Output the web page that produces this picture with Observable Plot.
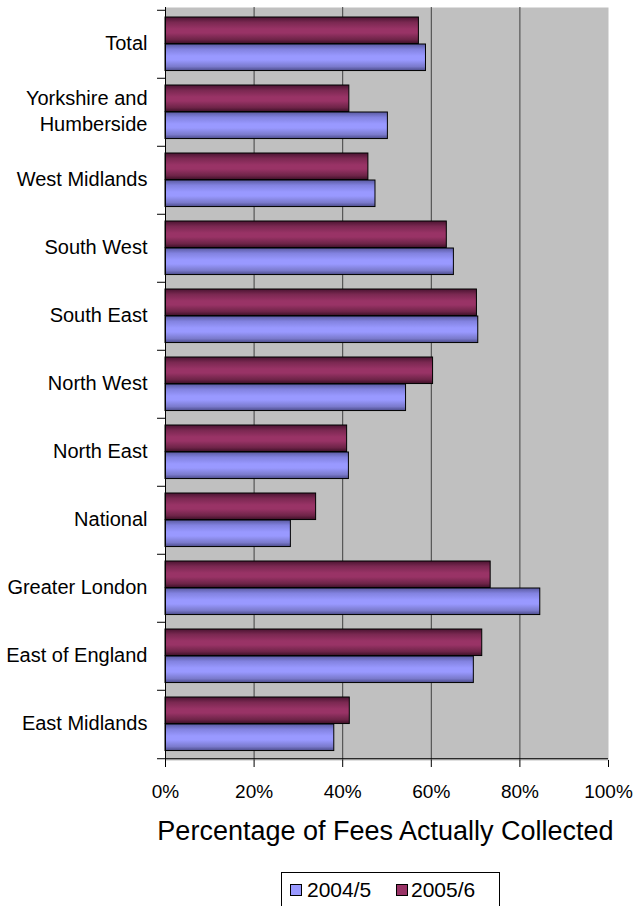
<!DOCTYPE html>
<html><head><meta charset="utf-8">
<script src="https://cdn.jsdelivr.net/npm/d3@7"></script>
<script src="https://cdn.jsdelivr.net/npm/@observablehq/plot@0.6"></script>
<style>
html,body{margin:0;padding:0;background:#fff;overflow:hidden;}
#wrap{position:relative;width:636px;height:906px;font-family:"Liberation Sans",Arial,sans-serif;color:#000;}
#chart{position:absolute;left:0;top:0;}
#title{position:absolute;left:100px;width:571px;top:818px;text-align:center;font-size:27px;line-height:27px;white-space:nowrap;}
#legend{position:absolute;left:281px;top:872px;width:219px;height:50px;box-sizing:border-box;border:1px solid #000;background:#fff;font-size:21px;}
.sw{position:absolute;top:11px;width:12px;height:12px;box-sizing:border-box;border:1px solid #000;}
.lt{position:absolute;top:5px;line-height:24px;}
</style></head><body><div id="wrap"><div id="chart"></div><div id="title"></div><div id="legend"></div></div>
<script>
const categories = ["Total","Yorkshire and Humberside","West Midlands","South West","South East","North West","North East","National","Greater London","East of England","East Midlands"];
const categoryLabels = ["Total","Yorkshire and\nHumberside","West Midlands","South West","South East","North West","North East","National","Greater London","East of England","East Midlands"];
const fees2004 = [58.8,50.2,47.4,65.1,70.6,54.3,41.4,28.3,84.6,69.6,38.1];
const fees2005 = [57.2,41.5,45.8,63.5,70.3,60.4,41.0,34.0,73.4,71.5,41.6];
const seriesNames = ["2004/5","2005/6"];
const xTicks = [0,20,40,60,80,100];
const gridTicks = [20,40,60,80];
const axisTitle = "Percentage of Fees Actually Collected";

const rows = categories.map((c,i)=>({category:c, label:categoryLabels[i], v2004:fees2004[i], v2005:fees2005[i]}));
const plotTop = 7, plotBottom = 760, svgHeight = 812;
const step = (plotBottom-plotTop)/categories.length;

const plot = Plot.plot({
  width:636, height:svgHeight, marginTop:plotTop, marginBottom:svgHeight-plotBottom, marginLeft:165, marginRight:28,
  style:{fontFamily:"Liberation Sans, Arial, sans-serif", fontSize:"19px", background:"transparent", color:"#000", overflow:"visible"},
  x:{domain:[0,100], ticks:xTicks, label:null},
  y:{domain:categories, padding:0, axis:null},
  marks:[
    Plot.frame({fill:"#c0c0c0", stroke:null}),
    Plot.ruleX(gridTicks, {stroke:"#404040", strokeWidth:1}),
    Plot.barX(rows, {x:"v2005", y:"category", fill:"url(#gradM)", stroke:"#000", strokeWidth:1, insetTop:7, insetBottom:step-34}),
    Plot.barX(rows, {x:"v2004", y:"category", fill:"url(#gradB)", stroke:"#000", strokeWidth:1, insetTop:34, insetBottom:step-61}),
    Plot.ruleX([0], {stroke:"#000", strokeWidth:1}),
    Plot.ruleY(categories, {x1:-1.8, x2:0, dy:-step/2, stroke:"#000", strokeWidth:1}),
    Plot.ruleY([categories[categories.length-1]], {x1:-1.8, x2:100, dy:step/2, stroke:"#000", strokeWidth:1}),
    Plot.text(rows, {x:0, y:"category", text:"label", textAnchor:"end", dx:-18, dy:-3, fontSize:20, lineHeight:1.3, fill:"#000"}),
    Plot.axisX(xTicks, {tickSize:7, tickPadding:17, tickFormat:d=>d+"%", stroke:"#000", fontSize:19, label:null})
  ]
});

d3.select(plot).insert("defs", ":first-child").html(`
<linearGradient id="gradM" x1="0" y1="0" x2="0" y2="1">
<stop offset="0" stop-color="#4a1431"/>
<stop offset="0.2" stop-color="#7a2851"/>
<stop offset="0.45" stop-color="#993366"/>
<stop offset="0.6" stop-color="#993366"/>
<stop offset="0.85" stop-color="#6e2448"/>
<stop offset="1" stop-color="#3d1027"/>
</linearGradient>
<linearGradient id="gradB" x1="0" y1="0" x2="0" y2="1">
<stop offset="0" stop-color="#5a5aa0"/>
<stop offset="0.2" stop-color="#8282e0"/>
<stop offset="0.45" stop-color="#9999ff"/>
<stop offset="0.6" stop-color="#9999ff"/>
<stop offset="0.85" stop-color="#7a7acc"/>
<stop offset="1" stop-color="#4c4c8a"/>
</linearGradient>`);

document.getElementById("chart").appendChild(plot);
document.getElementById("title").textContent = axisTitle;

const legendColors = {"2004/5":"#9999ff","2005/6":"#993366"};
const legendPos = [{sq:8, tx:25},{sq:114, tx:129}];
const lg = document.getElementById("legend");
seriesNames.forEach((s,i)=>{
  const sw = document.createElement("div");
  sw.className = "sw"; sw.style.left = legendPos[i].sq + "px"; sw.style.background = legendColors[s];
  const t = document.createElement("div");
  t.className = "lt"; t.style.left = legendPos[i].tx + "px"; t.textContent = s;
  lg.appendChild(sw); lg.appendChild(t);
});
</script></body></html>
